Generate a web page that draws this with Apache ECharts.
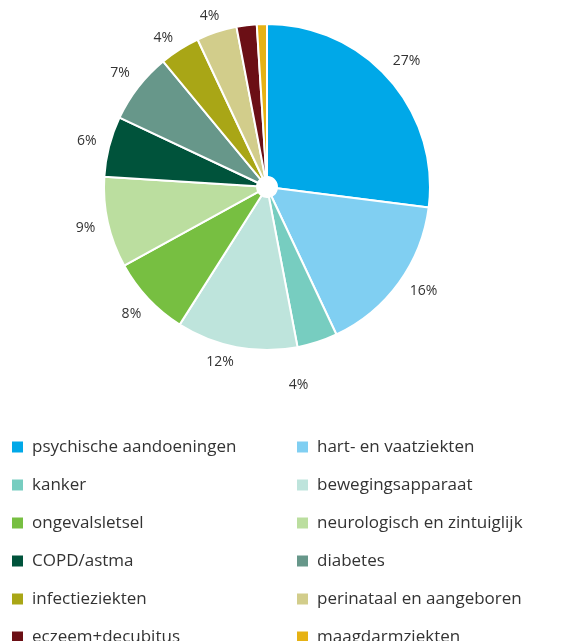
<!DOCTYPE html>
<html><head><meta charset="utf-8">
<script src="https://cdn.jsdelivr.net/npm/echarts@6/dist/echarts.min.js"></script>
<style>html,body{margin:0;padding:0;background:#fff}#c{width:577px;height:641px}</style>
</head><body><div id="c"></div>
<script>
const categories = ['psychische aandoeningen','hart- en vaatziekten','kanker','bewegingsapparaat','ongevalsletsel','neurologisch en zintuiglijk','COPD/astma','diabetes','infectieziekten','perinataal en aangeboren','eczeem+decubitus','maagdarmziekten'];
const values = [27,16,4,12,8,9,6,7,4,4,2,1];
const labelsShown = ['27%','16%','4%','12%','8%','9%','6%','7%','4%','4%','',''];
const colors = ['#00a8e8','#80cff2','#77cdc0','#bee4dc','#77bf41','#bbde9f','#00533b','#67978a','#a9a616','#d2cd8b','#6b0f15','#e6b214'];

const chart = echarts.init(document.getElementById('c'));
const leftNames = categories.filter((_, i) => i % 2 === 0);
const rightNames = categories.filter((_, i) => i % 2 === 1);
const legendBase = {
  orient: 'vertical', top: 437, height: 300, padding: 0,
  itemWidth: 13, itemHeight: 13, itemGap: 18,
  icon: 'rect', selectedMode: false,
  textStyle: { fontFamily: 'Open Sans', fontSize: 17, color: '#333', lineHeight: 20, padding: [0,0,0,3] }
};
// label nudges to mimic the reference's overlap-avoiding placement
const labelNudge = { 0: [0, -3], 2: [-26, 21], 3: [-12, -8], 1: [6, -5], 8: [-4, 8], 9: [0, 6] };
const pieData = categories.map((n, i) => ({ name: n, value: values[i] }));
const labelData = categories.map((n, i) => ({
  name: n, value: values[i],
  label: labelNudge[i] ? { offset: labelNudge[i] } : undefined
}));
chart.setOption({
  animation: false,
  color: colors,
  legend: [
    Object.assign({}, legendBase, { left: 10, data: leftNames }),
    Object.assign({}, legendBase, { left: 295, data: rightNames })
  ],
  series: [{
    type: 'pie',
    center: [267, 187],
    radius: [10, 163],
    startAngle: 90,
    clockwise: true,
    itemStyle: { borderColor: '#fff', borderWidth: 2 },
    label: { show: false },
    labelLine: { show: false },
    data: pieData
  }, {
    type: 'pie',
    center: [267, 187],
    radius: [163, 203],
    startAngle: 90,
    clockwise: true,
    silent: true,
    itemStyle: { color: 'rgba(0,0,0,0)', borderWidth: 0 },
    label: {
      show: true, position: 'inside',
      fontFamily: 'Open Sans', fontSize: 14, color: '#333',
      formatter: p => labelsShown[p.dataIndex]
    },
    labelLine: { show: false },
    emphasis: { disabled: true },
    data: labelData
  }]
});
</script></body></html>
